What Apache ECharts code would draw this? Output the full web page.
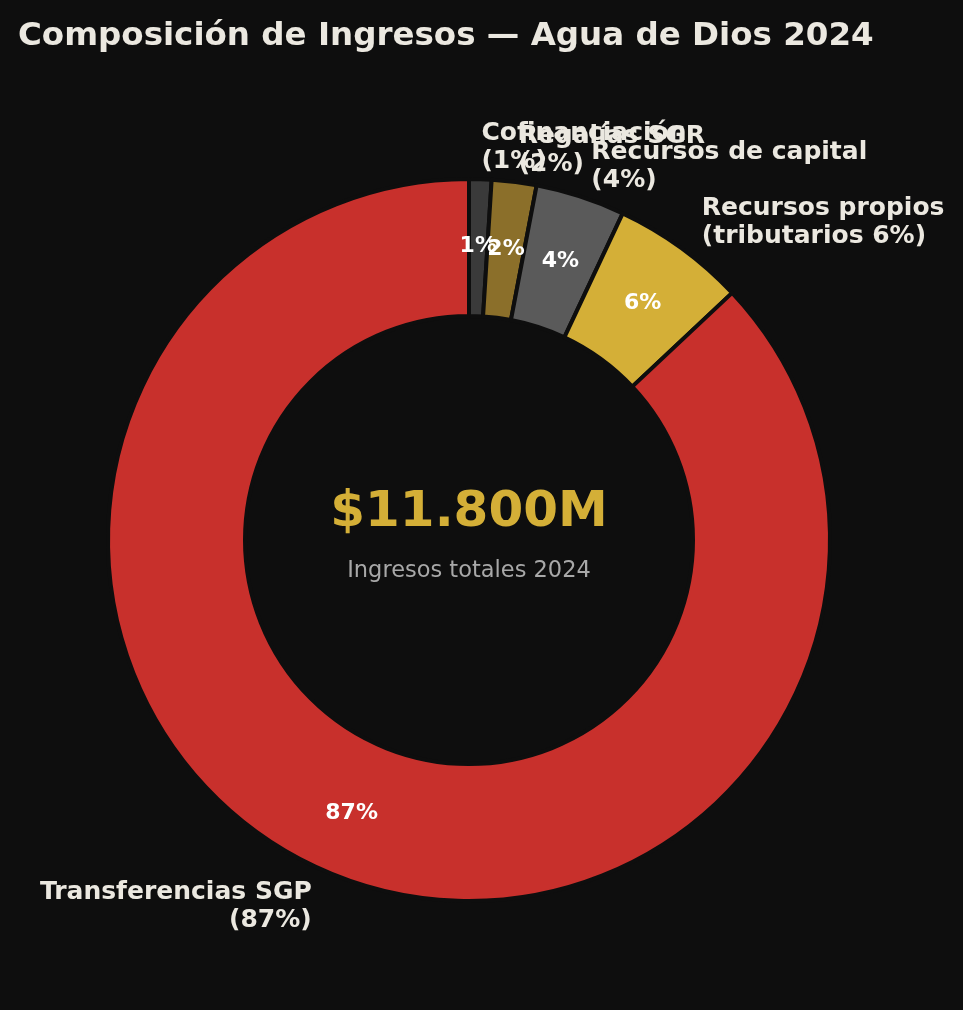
<!DOCTYPE html>
<html>
<head>
<meta charset="utf-8">
<script src="https://cdn.jsdelivr.net/npm/echarts@6/dist/echarts.min.js"></script>
<style>
  html, body { margin: 0; padding: 0; background: #0e0e0e; }
  #box { width: 963px; height: 1010px; }
</style>
</head>
<body>
<div id="box"></div>
<script>
const categories = ['Cofinanciación', 'Regalías SGR', 'Recursos de capital', 'Recursos propios', 'Transferencias SGP']
const shares = [1, 2, 4, 6, 87]
const outerLabels = [
  'Cofinanciación\n(1%)',
  'Regalías SGR\n(2%)',
  'Recursos de capital\n(4%)',
  'Recursos propios\n(tributarios 6%)',
  'Transferencias SGP\n(87%)'
]
const colors = ['#3a3a3a', '#8b6f2a', '#5a5a5a', '#d4af37', '#c8302c']
const totalText = '$11.800M'
const totalCaption = 'Ingresos totales 2024'

const BG = '#0e0e0e'
const FONT = 'DejaVu Sans'
const center = [469, 540]

const chart = echarts.init(document.getElementById('box'), null, { renderer: 'canvas' })

// donut with percent inside
const donutData = categories.map((name, i) => ({
  name,
  value: shares[i],
  itemStyle: { color: colors[i] }
}))

// invisible pie used only to place the outer labels
const labelData = categories.map((name, i) => ({
  name,
  value: shares[i],
  label: { formatter: outerLabels[i] }
}))

chart.setOption({
  backgroundColor: BG,
  animation: false,
  title: {
    text: 'Composición de Ingresos — Agua de Dios 2024',
    left: 13,
    top: 15,
    textStyle: { color: '#ebe8e0', fontFamily: FONT, fontWeight: 'bold', fontSize: 32.5 }
  },
  graphic: [
    {
      type: 'text',
      x: center[0],
      y: 513,
      style: {
        text: totalText,
        fill: '#d4af37',
        font: 'bold 50px "DejaVu Sans"',
        textAlign: 'center',
        textVerticalAlign: 'middle'
      }
    },
    {
      type: 'text',
      x: center[0],
      y: 571,
      style: {
        text: totalCaption,
        fill: '#a8a8a8',
        font: '22.5px "DejaVu Sans"',
        textAlign: 'center',
        textVerticalAlign: 'middle'
      }
    }
  ],
  series: [
    {
      type: 'pie',
      center: center,
      radius: [0, 396],
      startAngle: 90,
      silent: true,
      avoidLabelOverlap: false,
      z: 1,
      itemStyle: { color: 'transparent', borderWidth: 0 },
      label: {
        position: 'outside',
        color: '#ebe8e0',
        fontFamily: FONT,
        fontWeight: 'bold',
        fontSize: 25,
        lineHeight: 28,
        distanceToLabelLine: 0
      },
      labelLine: { show: false, length: 0, length2: 0 },
      labelLayout: { hideOverlap: false, dy: 3 },
      data: labelData
    },
    {
      type: 'pie',
      center: center,
      radius: [224, 361],
      startAngle: 90,
      silent: true,
      avoidLabelOverlap: false,
      z: 2,
      itemStyle: { borderColor: BG, borderWidth: 4 },
      label: {
        position: 'inside',
        color: '#ffffff',
        fontFamily: FONT,
        fontWeight: 'bold',
        fontSize: 22,
        formatter: p => p.value + '%'
      },
      labelLine: { show: false },
      labelLayout: { hideOverlap: false, dy: 2 },
      data: donutData
    }
  ]
})
</script>
</body>
</html>
